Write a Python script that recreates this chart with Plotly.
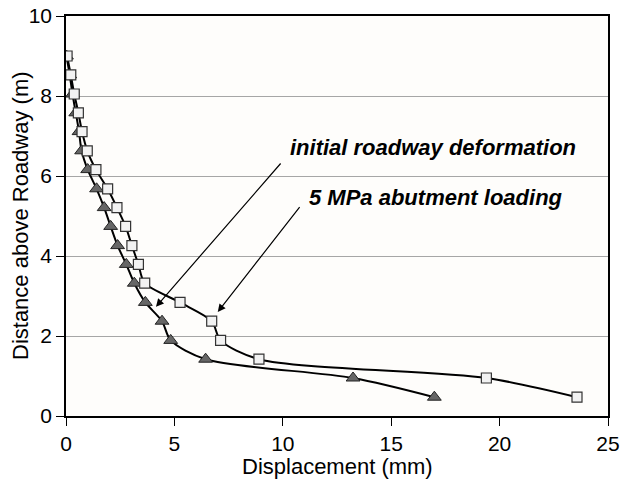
import plotly.graph_objects as go

# Heights above roadway (m)
height_m = [9.00, 8.53, 8.05, 7.58, 7.11, 6.63, 6.16, 5.68, 5.21, 4.74, 4.26, 3.79, 3.32, 2.84, 2.37, 1.89, 1.42, 0.95, 0.47]
# Displacement (mm) - initial roadway deformation (triangles)
initial_mm = [0.02, 0.17, 0.30, 0.45, 0.60, 0.72, 1.00, 1.41, 1.76, 2.06, 2.38, 2.78, 3.15, 3.66, 4.43, 4.83, 6.44, 13.24, 16.99]
# Displacement (mm) - 5 MPa abutment loading (squares)
abutment_mm = [0.05, 0.22, 0.38, 0.57, 0.74, 0.98, 1.38, 1.92, 2.35, 2.75, 3.04, 3.34, 3.63, 5.26, 6.72, 7.13, 8.90, 19.39, 23.57]

x_ticks = [0, 5, 10, 15, 20, 25]
y_ticks = [0, 2, 4, 6, 8, 10]

x_title = "Displacement (mm)"
y_title = "Distance above Roadway (m)"
label_initial = "initial roadway deformation"
label_abutment = "5 MPa abutment loading"
# text anchor (left, middle) and arrow tail/head in data units
initial_text_pos = (10.25, 6.72)
initial_arrow = ((9.96, 6.35), (4.15, 2.73))
abutment_text_pos = (11.1, 5.47)
abutment_arrow = ((10.83, 5.26), (7.0, 2.6))

fig = go.Figure()
fig.add_trace(go.Scatter(
    x=initial_mm, y=height_m, mode="lines+markers",
    line=dict(color="black", width=2, shape="spline", smoothing=0.8),
    marker=dict(symbol="triangle-up", size=12, color="#666666",
                line=dict(color="#222222", width=1)),
    showlegend=False))
fig.add_trace(go.Scatter(
    x=abutment_mm, y=height_m, mode="lines+markers",
    line=dict(color="black", width=2, shape="spline", smoothing=0.8),
    marker=dict(symbol="square", size=10, color="#f2f2f2",
                line=dict(color="#333333", width=1.2)),
    showlegend=False))

font = "Arial, Liberation Sans, sans-serif"
for txt, pos in [(label_initial, initial_text_pos), (label_abutment, abutment_text_pos)]:
    fig.add_annotation(x=pos[0], y=pos[1], text="<b><i>" + txt + "</i></b>",
                       showarrow=False, xanchor="left", yanchor="middle",
                       font=dict(family=font, size=22, color="black"))
for (tail, head) in [initial_arrow, abutment_arrow]:
    fig.add_annotation(x=head[0], y=head[1], ax=tail[0], ay=tail[1],
                       xref="x", yref="y", axref="x", ayref="y", text="",
                       showarrow=True, arrowhead=2, arrowsize=1.3, arrowwidth=1.2,
                       arrowcolor="black")

# axis titles as annotations placed like the reference
fig.add_annotation(x=0, y=0.5, xref="paper", yref="paper", xshift=-46,
                   text=y_title, textangle=-90, showarrow=False,
                   xanchor="center", yanchor="middle",
                   font=dict(family=font, size=22, color="black"))
fig.add_annotation(x=0.5, y=0, xref="paper", yref="paper", yshift=-50,
                   text=x_title, showarrow=False,
                   xanchor="center", yanchor="middle",
                   font=dict(family=font, size=22, color="black"))

fig.update_layout(
    width=621, height=486,
    margin=dict(l=66, r=13, t=16, b=70, autoexpand=False),
    paper_bgcolor="white", plot_bgcolor="#fefdfb",
    font=dict(family=font, size=21, color="black"),
    xaxis=dict(range=[0, 25], tickvals=x_ticks, showgrid=False, zeroline=False,
               showline=True, linecolor="black", linewidth=1.5, mirror=True,
               ticks="outside", ticklen=8, tickcolor="black", automargin=False,
               ticklabeloverflow="allow"),
    yaxis=dict(range=[0, 10], tickvals=y_ticks, showgrid=True, gridcolor="#a6a6a6",
               gridwidth=1, zeroline=False, automargin=False,
               ticklabeloverflow="allow",
               showline=True, linecolor="black", linewidth=1.5, mirror=True,
               ticks="outside", ticklen=8, tickcolor="black"),
)

# remove the page's default body margin so the figure fills the window
fig.write_html("out.html", config={"displayModeBar": False},
               post_script="document.body.style.margin='0';")
